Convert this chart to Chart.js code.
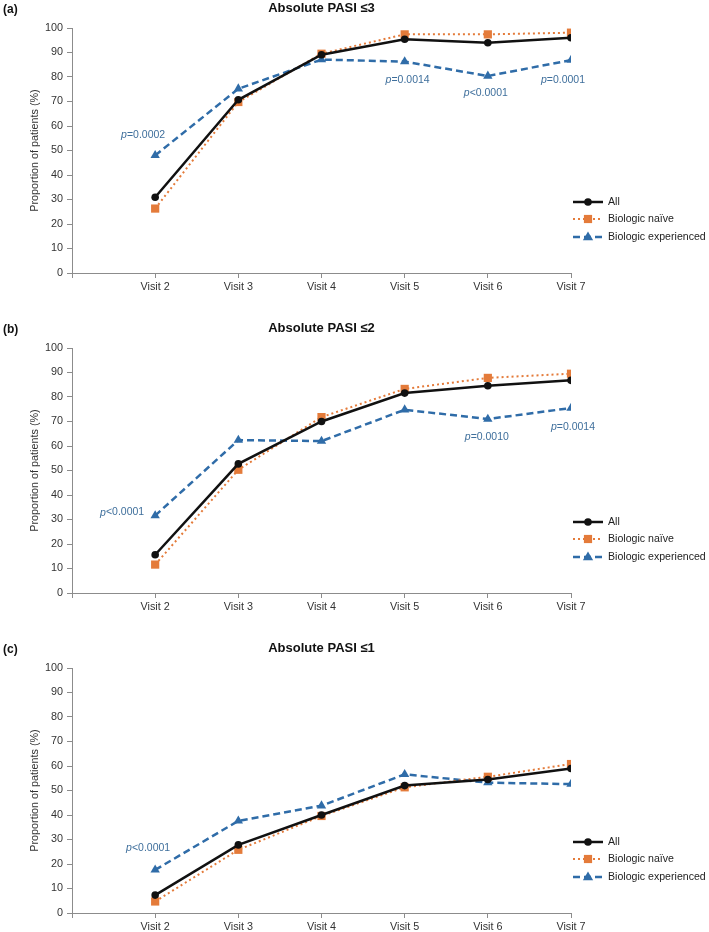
<!DOCTYPE html>
<html>
<head>
<meta charset="utf-8">
<script src="https://cdn.jsdelivr.net/npm/chart.js@4.4.1/dist/chart.umd.min.js"></script>
<style>
  html, body { margin: 0; padding: 0; background: #fff; }
  #wrap { position: relative; width: 709px; height: 932px; overflow: hidden; }
  .panel { position: absolute; left: 0; width: 709px; height: 300px; }
</style>
</head>
<body>
<div id="wrap">
  <div class="panel" style="top:0px"><canvas id="chartA" width="709" height="300"></canvas></div>
  <div class="panel" style="top:320px"><canvas id="chartB" width="709" height="300"></canvas></div>
  <div class="panel" style="top:640px"><canvas id="chartC" width="709" height="300"></canvas></div>
</div>
<script>
// visits on the x axis (axis starts one step before Visit 2)
const visits = [2, 3, 4, 5, 6, 7];
const seriesNames = ['All', 'Biologic naïve', 'Biologic experienced'];
const yTicks = [0, 10, 20, 30, 40, 50, 60, 70, 80, 90, 100];

// (a) Absolute PASI <=3
const allA = [30.9, 70.7, 89.1, 95.4, 94.0, 96.0];
const naiveA = [26.3, 69.8, 89.5, 97.4, 97.4, 98.1];
const expA = [48.0, 75.2, 87.1, 86.3, 80.4, 86.9];
const pVisitsA = [2, 5, 6, 7];
const pTextsA = ['=0.0002', '=0.0014', '<0.0001', '=0.0001'];

// (b) Absolute PASI <=2
const allB = [15.6, 52.7, 70.0, 81.6, 84.6, 86.8];
const naiveB = [11.6, 50.3, 71.8, 83.3, 87.8, 89.5];
const expB = [31.6, 62.4, 62.0, 74.8, 71.0, 75.5];
const pVisitsB = [2, 6, 7];
const pTextsB = ['<0.0001', '=0.0010', '=0.0014'];

// (c) Absolute PASI <=1
const allC = [7.3, 27.8, 40.0, 52.0, 54.5, 59.0];
const naiveC = [4.7, 25.8, 39.6, 51.3, 55.6, 60.8];
const expC = [17.6, 37.6, 43.8, 56.6, 53.2, 52.6];
const pVisitsC = [2];
const pTextsC = ['<0.0001'];

const FONT = '"Liberation Sans", Arial, Helvetica, sans-serif';
const AXIS_GREY = '#8c8c8c';
const P_BLUE = '#3f6f9c';

const seriesStyle = [
    { color: '#111111', width: 2.5, dash: [], point: 'circle', radius: 3.8 },
    { color: '#e47b3a', width: 2, dash: [2, 3], point: 'rect', radius: 5.8 },
    { color: '#2f6ca8', width: 2.5, dash: [7, 4], point: 'triangle', radius: 5.4 }
];

function toPoints(vals) {
    return visits.map((v, i) => ({ x: v, y: vals[i] }));
}

function drawMarker(ctx, style, x, y) {
    ctx.save();
    ctx.setLineDash([]);
    ctx.fillStyle = style.color;
    ctx.beginPath();
    const r = style.radius;
    if (style.point === 'circle') {
        ctx.arc(x, y, r, 0, Math.PI * 2);
    } else if (style.point === 'rect') {
        const s = r * Math.SQRT1_2;
        ctx.rect(x - s, y - s, 2 * s, 2 * s);
    } else {
        ctx.moveTo(x, y - r);
        ctx.lineTo(x + r * 0.95, y + r * 0.6);
        ctx.lineTo(x - r * 0.95, y + r * 0.6);
        ctx.closePath();
    }
    ctx.fill();
    ctx.restore();
}

// panel letter, title, p-values and the legend on the right
const panelDecor = {
    id: 'panelDecor',
    afterDraw(chart, args, opts) {
        const ctx = chart.ctx;
        const area = chart.chartArea;
        const xs = chart.scales.x;
        const ys = chart.scales.y;
        ctx.save();

        ctx.fillStyle = '#111';
        ctx.textBaseline = 'middle';
        ctx.textAlign = 'left';
        ctx.font = 'bold 12px ' + FONT;
        ctx.fillText(opts.letter, 3, 10);

        ctx.textAlign = 'center';
        ctx.font = 'bold 13px ' + FONT;
        ctx.fillText(opts.title, (area.left + area.right) / 2, area.top - 20);

        // p-values next to the biologic experienced points
        const expData = chart.data.datasets[2].data;
        opts.pVisits.forEach((v, i) => {
            const pt = expData.find(d => d.x === v);
            const px = xs.getPixelForValue(v);
            const py = ys.getPixelForValue(pt.y);
            const [dx, dy] = opts.pOffsets[i];
            ctx.font = 'italic 10.5px ' + FONT;
            const w1 = ctx.measureText('p').width;
            ctx.font = '10.5px ' + FONT;
            const w2 = ctx.measureText(opts.pTexts[i]).width;
            const left = px + dx - (w1 + w2) / 2;
            ctx.fillStyle = P_BLUE;
            ctx.textAlign = 'left';
            ctx.font = 'italic 10.5px ' + FONT;
            ctx.fillText('p', left, py + dy);
            ctx.font = '10.5px ' + FONT;
            ctx.fillText(opts.pTexts[i], left + w1, py + dy);
        });

        // legend
        const legendY = [-71, -54, -36];
        chart.data.datasets.forEach((ds, i) => {
            const st = seriesStyle[i];
            const y = area.bottom + legendY[i];
            const x0 = area.right + 2;
            ctx.save();
            ctx.strokeStyle = st.color;
            ctx.lineWidth = st.width;
            ctx.setLineDash(st.dash);
            ctx.beginPath();
            ctx.moveTo(x0, y);
            ctx.lineTo(x0 + 30, y);
            ctx.stroke();
            ctx.restore();
            drawMarker(ctx, st, x0 + 15, y);
            ctx.fillStyle = '#222';
            ctx.textAlign = 'left';
            ctx.font = '10.6px ' + FONT;
            ctx.fillText(ds.label, x0 + 35, y + 0.5);
        });
        ctx.restore();
    }
};

function makePanel(canvasId, letter, title, all, naive, exp, pVisits, pTexts, pOffsets) {
    const series = [all, naive, exp];
    new Chart(document.getElementById(canvasId), {
        type: 'line',
        data: {
            datasets: series.map((vals, i) => ({
                label: seriesNames[i],
                data: toPoints(vals),
                borderColor: seriesStyle[i].color,
                backgroundColor: seriesStyle[i].color,
                borderWidth: seriesStyle[i].width,
                borderDash: seriesStyle[i].dash,
                pointStyle: seriesStyle[i].point,
                pointRadius: seriesStyle[i].radius,
                pointBorderWidth: 0,
                pointBackgroundColor: seriesStyle[i].color,
                tension: 0,
                fill: false
            }))
        },
        options: {
            responsive: false,
            animation: false,
            layout: { padding: { top: 28, right: 138, bottom: 0, left: 0 } },
            plugins: {
                legend: { display: false },
                tooltip: { enabled: false },
                panelDecor: { letter, title, pVisits, pTexts, pOffsets }
            },
            scales: {
                x: {
                    type: 'linear',
                    min: 1,
                    max: 7,
                    afterFit(scale) { scale.height = 27; },
                    ticks: {
                        stepSize: 1,
                        autoSkip: false,
                        maxRotation: 0,
                        padding: 3,
                        color: '#333',
                        font: { family: FONT, size: 10.8 },
                        callback: v => (v >= 2 ? 'Visit ' + v : '')
                    },
                    grid: { drawOnChartArea: false, tickLength: 5, color: AXIS_GREY },
                    border: { color: AXIS_GREY, width: 1 }
                },
                y: {
                    min: 0,
                    max: 100,
                    afterFit(scale) { scale.width = 72; },
                    afterBuildTicks(scale) { scale.ticks = yTicks.map(v => ({ value: v })); },
                    ticks: {
                        padding: 4,
                        color: '#333',
                        font: { family: FONT, size: 10.8 }
                    },
                    title: {
                        display: true,
                        text: 'Proportion of patients (%)',
                        color: '#333',
                        font: { family: FONT, size: 10.8 },
                        padding: { top: 29, bottom: 0 }
                    },
                    grid: { drawOnChartArea: false, tickLength: 5, color: AXIS_GREY },
                    border: { color: AXIS_GREY, width: 1 }
                }
            }
        },
        plugins: [panelDecor]
    });
}

makePanel('chartA', '(a)', 'Absolute PASI ≤3', allA, naiveA, expA, pVisitsA, pTextsA,
    [[-12, -20], [3, 19], [-2, 17], [-8, 20]]);
makePanel('chartB', '(b)', 'Absolute PASI ≤2', allB, naiveB, expB, pVisitsB, pTextsB,
    [[-33, -3], [-1, 18], [2, 19]]);
makePanel('chartC', '(c)', 'Absolute PASI ≤1', allC, naiveC, expC, pVisitsC, pTextsC,
    [[-7, -22]]);
</script>
</body>
</html>
